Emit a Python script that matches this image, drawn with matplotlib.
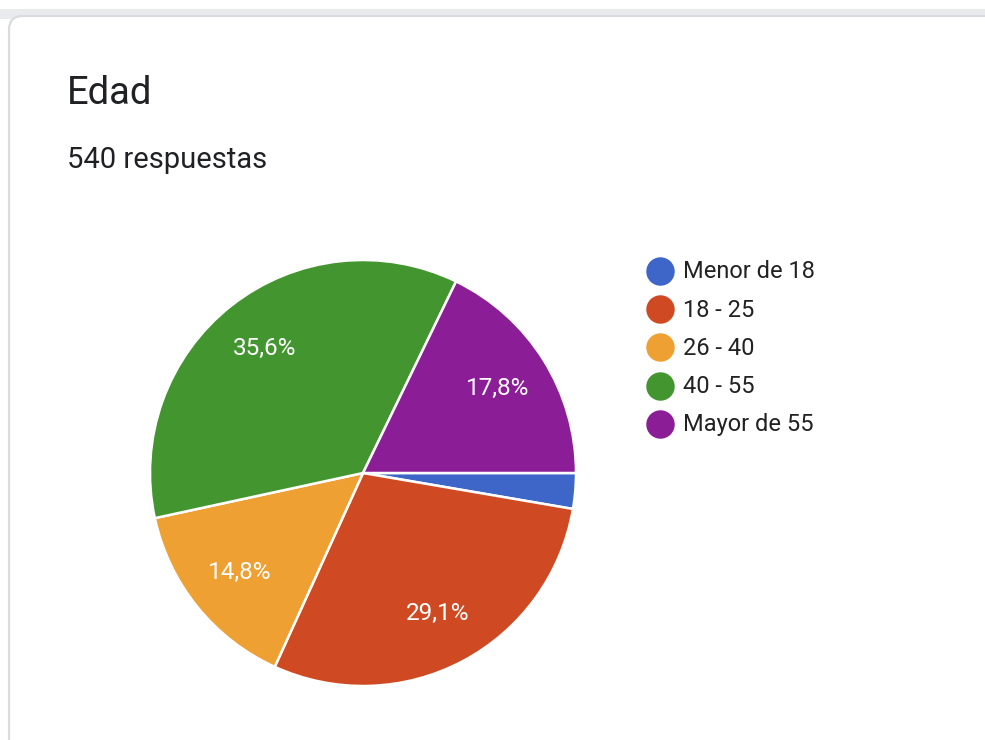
import matplotlib
import matplotlib.pyplot as plt
import numpy as np
from matplotlib.patches import FancyBboxPatch, Rectangle

matplotlib.use("Agg")

# Respuestas por franja de edad (porcentajes)
categorias = ["Menor de 18", "18 - 25", "26 - 40", "40 - 55", "Mayor de 55"]
porcentajes = [2.7, 29.1, 14.8, 35.6, 17.8]
colores = ["#3e66c8", "#cf4a23", "#eea033", "#43952f", "#8b1e96"]
titulo = "Edad"
subtitulo = "540 respuestas"

W, H = 985, 740
fig = plt.figure(figsize=(W / 100, H / 100), dpi=100)
fig.patch.set_facecolor("white")

# Card background with a thin grey band on top
bg = fig.add_axes([0, 0, 1, 1])
bg.set_xlim(0, W)
bg.set_ylim(H, 0)
bg.axis("off")
bg.add_patch(Rectangle((0, 9), W, 10, color="#e8eaed", lw=0))
bg.add_patch(
    FancyBboxPatch(
        (9, 16), W + 40, H + 40,
        boxstyle="round,pad=0,rounding_size=14",
        facecolor="white", edgecolor="#d9dbde", lw=1.6,
    )
)

bg.text(67, 93, titulo, fontsize=27.5, family="Roboto", color="#202124",
        va="center", ha="left")
bg.text(67, 160, subtitulo, fontsize=21, family="Roboto", color="#202124",
        va="center", ha="left")

# Pie: center (363, 473), radius 213 px
cx, cy, r = 363, 473, 213
ax = fig.add_axes([(cx - r) / W, (H - cy - r) / H, 2 * r / W, 2 * r / H])
wedges, _ = ax.pie(
    porcentajes,
    colors=colores,
    startangle=0,
    counterclock=False,
    radius=1,
    wedgeprops=dict(edgecolor="white", linewidth=1.8),
)
ax.set_xlim(-1, 1)
ax.set_ylim(-1, 1)
ax.set_aspect("equal")

# Percentage labels inside the larger wedges
ang = 0.0
for w, p in zip(wedges, porcentajes):
    mid = np.deg2rad(ang - p * 3.6 / 2)
    ang -= p * 3.6
    if p < 5:
        continue
    ax.text(0.745 * np.cos(mid), 0.745 * np.sin(mid),
            f"{p:.1f}%".replace(".", ","),
            color="white", fontsize=17.5, family="Roboto",
            ha="center", va="center")

# Legend
y0, dy = 271, 38.2
for i, (c, lab) in enumerate(zip(colores, categorias)):
    y = y0 + i * dy
    bg.scatter([660], [y], s=420, color=c, lw=0)
    bg.text(683, y + 1, lab, fontsize=17, family="Roboto", color="#222222",
            va="center", ha="left")

fig.savefig("out.png", dpi=100)
